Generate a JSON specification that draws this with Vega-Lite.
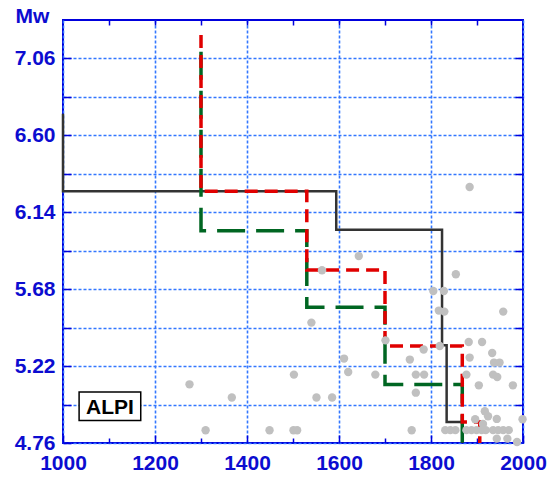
{
  "$schema": "https://vega.github.io/schema/vega-lite/v6.json",
  "width": 460,
  "height": 423,
  "autosize": {"type": "none"},
  "padding": {"left": 63, "top": 20, "right": 32, "bottom": 38},
  "background": "white",
  "config": {
    "view": {"stroke": "#0000dd", "strokeWidth": 2},
    "axis": {
      "labelFont": "Liberation Sans",
      "labelFontWeight": "bold",
      "labelFontSize": 21,
      "labelColor": "#0c0cd0",
      "tickColor": "#0000dd",
      "tickWidth": 1.5,
      "gridColor": "#3377ff",
      "gridWidth": 1.6,
      "gridDash": [3, 2],
      "gridOpacity": 1,
      "domain": false,
      "titleFont": "Liberation Sans",
      "titleFontWeight": "bold",
      "titleFontSize": 21,
      "titleColor": "#0c0cd0"
    }
  },
  "datasets": {
    "steps": [
      {"series": "black", "i": 0, "yr": 1000, "mw": 6.73},
      {"series": "black", "i": 1, "yr": 1000, "mw": 6.265},
      {"series": "black", "i": 2, "yr": 1594, "mw": 6.265},
      {"series": "black", "i": 3, "yr": 1594, "mw": 6.035},
      {"series": "black", "i": 4, "yr": 1824, "mw": 6.035},
      {"series": "black", "i": 5, "yr": 1824, "mw": 5.345},
      {"series": "black", "i": 6, "yr": 1834, "mw": 5.345},
      {"series": "black", "i": 7, "yr": 1834, "mw": 4.885},
      {"series": "black", "i": 8, "yr": 1868, "mw": 4.885},
      {"series": "black", "i": 9, "yr": 1868, "mw": 4.76},
      {"series": "green", "i": 0, "yr": 1300, "mw": 7.1},
      {"series": "green", "i": 1, "yr": 1300, "mw": 6.03},
      {"series": "green", "i": 2, "yr": 1530, "mw": 6.03},
      {"series": "green", "i": 3, "yr": 1530, "mw": 5.572},
      {"series": "green", "i": 4, "yr": 1700, "mw": 5.572},
      {"series": "green", "i": 5, "yr": 1700, "mw": 5.11},
      {"series": "green", "i": 6, "yr": 1868, "mw": 5.11},
      {"series": "green", "i": 7, "yr": 1868, "mw": 4.76},
      {"series": "red", "i": 0, "yr": 1300, "mw": 7.2},
      {"series": "red", "i": 1, "yr": 1300, "mw": 6.265},
      {"series": "red", "i": 2, "yr": 1530, "mw": 6.265},
      {"series": "red", "i": 3, "yr": 1530, "mw": 5.795},
      {"series": "red", "i": 4, "yr": 1700, "mw": 5.795},
      {"series": "red", "i": 5, "yr": 1700, "mw": 5.34},
      {"series": "red", "i": 6, "yr": 1868, "mw": 5.34},
      {"series": "red", "i": 7, "yr": 1868, "mw": 4.885},
      {"series": "red", "i": 8, "yr": 1906, "mw": 4.885},
      {"series": "red", "i": 9, "yr": 1906, "mw": 4.76}
    ],
    "quakes": [
      {"yr": 1275, "mw": 5.111},
      {"yr": 1367, "mw": 5.032},
      {"yr": 1310, "mw": 4.836},
      {"yr": 1449, "mw": 4.836},
      {"yr": 1501, "mw": 4.836},
      {"yr": 1509, "mw": 4.836},
      {"yr": 1502, "mw": 5.169},
      {"yr": 1551, "mw": 5.032},
      {"yr": 1585, "mw": 5.032},
      {"yr": 1540, "mw": 5.48},
      {"yr": 1563, "mw": 5.793},
      {"yr": 1643, "mw": 5.878},
      {"yr": 1611, "mw": 5.265},
      {"yr": 1620, "mw": 5.185},
      {"yr": 1679, "mw": 5.169},
      {"yr": 1701, "mw": 5.374},
      {"yr": 1754, "mw": 5.259},
      {"yr": 1784, "mw": 5.319},
      {"yr": 1767, "mw": 5.169},
      {"yr": 1785, "mw": 5.169},
      {"yr": 1767, "mw": 5.061},
      {"yr": 1758, "mw": 4.836},
      {"yr": 1805, "mw": 5.669},
      {"yr": 1828, "mw": 5.669},
      {"yr": 1817, "mw": 5.552},
      {"yr": 1829, "mw": 5.546},
      {"yr": 1854, "mw": 5.769},
      {"yr": 1819, "mw": 5.34},
      {"yr": 1957, "mw": 5.546},
      {"yr": 1882, "mw": 5.364},
      {"yr": 1911, "mw": 5.364},
      {"yr": 1884, "mw": 5.271},
      {"yr": 1933, "mw": 5.298},
      {"yr": 1937, "mw": 5.241},
      {"yr": 1949, "mw": 5.241},
      {"yr": 1877, "mw": 5.169},
      {"yr": 1935, "mw": 5.169},
      {"yr": 1944, "mw": 5.155},
      {"yr": 1904, "mw": 5.105},
      {"yr": 1978, "mw": 5.105},
      {"yr": 1917, "mw": 4.95},
      {"yr": 1924, "mw": 4.92},
      {"yr": 1943, "mw": 4.904},
      {"yr": 1896, "mw": 4.902},
      {"yr": 1999, "mw": 4.902},
      {"yr": 1913, "mw": 4.874},
      {"yr": 1943, "mw": 4.786},
      {"yr": 1966, "mw": 4.786},
      {"yr": 1987, "mw": 4.766},
      {"yr": 1884, "mw": 6.291},
      {"yr": 1831, "mw": 4.837},
      {"yr": 1842, "mw": 4.837},
      {"yr": 1853, "mw": 4.837},
      {"yr": 1877, "mw": 4.837},
      {"yr": 1888, "mw": 4.837},
      {"yr": 1899, "mw": 4.837},
      {"yr": 1910, "mw": 4.837},
      {"yr": 1919, "mw": 4.837},
      {"yr": 1935, "mw": 4.837},
      {"yr": 1946, "mw": 4.837},
      {"yr": 1957, "mw": 4.837},
      {"yr": 1969, "mw": 4.837}
    ],
    "tag": [
      {"label": "ALPI", "yr": 1102, "mw": 4.936, "x0": 1035, "x1": 1169, "y0": 4.894, "y1": 5.065}
    ]
  },
  "resolve": {"axis": {"x": "independent", "y": "independent"}},
  "layer": [
    {
      "data": {"name": "steps"},
      "transform": [{"filter": "datum.series === 'black'"}],
      "mark": {"type": "line", "color": "#333333", "strokeWidth": 2.5, "interpolate": "linear"},
      "encoding": {
        "x": {
          "field": "yr", "type": "quantitative",
          "scale": {"domain": [1000, 2000], "nice": false, "zero": false},
          "axis": {
            "orient": "bottom", "title": null, "format": "d",
            "values": [1000, 1200, 1400, 1600, 1800, 2000],
            "grid": true, "tickSize": -8, "labelPadding": 17,
            "labelFlush": false, "labelOverlap": false
          }
        },
        "y": {
          "field": "mw", "type": "quantitative",
          "scale": {"domain": [4.76, 7.29], "nice": false, "zero": false},
          "axis": {
            "orient": "left",
            "values": [4.76, 4.99, 5.22, 5.45, 5.68, 5.91, 6.14, 6.37, 6.6, 6.83, 7.06],
            "labelExpr": "indexof([4.76, 5.22, 5.68, 6.14, 6.6, 7.06], datum.value) >= 0 ? format(datum.value, '.2f') : ''",
            "grid": true, "tickSize": -8, "labelPadding": 16,
            "labelFlush": false, "labelOverlap": false,
            "title": "Mw", "titleAngle": 0, "titleAlign": "left",
            "titleBaseline": "alphabetic", "titleX": -48, "titleY": 2
          }
        },
        "order": {"field": "i", "type": "quantitative"}
      }
    },
    {
      "data": {"name": "steps"},
      "transform": [{"filter": "datum.series === 'green'"}],
      "mark": {"type": "line", "color": "#006622", "strokeWidth": 3.5, "strokeDash": [28, 11], "strokeCap": "butt"},
      "encoding": {
        "x": {
          "field": "yr", "type": "quantitative",
          "scale": {"domain": [1000, 2000], "nice": false, "zero": false},
          "axis": {
            "orient": "top", "title": null,
            "values": [1100, 1200, 1300, 1400, 1500, 1600, 1700, 1800, 1900],
            "labels": false, "grid": false, "tickSize": -5
          }
        },
        "y": {
          "field": "mw", "type": "quantitative",
          "scale": {"domain": [4.76, 7.29], "nice": false, "zero": false},
          "axis": {
            "orient": "right", "title": null,
            "values": [4.99, 5.22, 5.45, 5.68, 5.91, 6.14, 6.37, 6.6, 6.83, 7.06],
            "labels": false, "grid": false, "tickSize": -8
          }
        },
        "order": {"field": "i", "type": "quantitative"}
      }
    },
    {
      "data": {"name": "steps"},
      "transform": [{"filter": "datum.series === 'red'"}],
      "mark": {"type": "line", "color": "#e00000", "strokeWidth": 3.5, "strokeDash": [13, 7], "strokeCap": "butt"},
      "encoding": {
        "x": {
          "field": "yr", "type": "quantitative",
          "scale": {"domain": [1000, 2000], "nice": false, "zero": false},
          "axis": {
            "orient": "bottom", "title": null,
            "values": [1100, 1300, 1500, 1700, 1900],
            "labels": false, "grid": false, "tickSize": -5
          }
        },
        "y": {
          "field": "mw", "type": "quantitative",
          "scale": {"domain": [4.76, 7.29], "nice": false, "zero": false},
          "axis": null
        },
        "order": {"field": "i", "type": "quantitative"}
      }
    },
    {
      "data": {"name": "quakes"},
      "mark": {"type": "circle", "size": 70, "color": "#c0c0c0", "opacity": 1},
      "encoding": {
        "x": {"field": "yr", "type": "quantitative", "axis": null},
        "y": {"field": "mw", "type": "quantitative", "axis": null}
      }
    },
    {
      "data": {"name": "tag"},
      "mark": {"type": "rect", "fill": "white", "stroke": "black", "strokeWidth": 1.5},
      "encoding": {
        "x": {"field": "x0", "type": "quantitative", "axis": null},
        "x2": {"field": "x1"},
        "y": {"field": "y0", "type": "quantitative", "axis": null},
        "y2": {"field": "y1"}
      }
    },
    {
      "data": {"name": "tag"},
      "mark": {"type": "text", "font": "Liberation Sans", "fontWeight": "bold", "fontSize": 21, "color": "black", "align": "center", "baseline": "alphabetic"},
      "encoding": {
        "x": {"field": "yr", "type": "quantitative", "axis": null},
        "y": {"field": "mw", "type": "quantitative", "axis": null},
        "text": {"field": "label"}
      }
    }
  ]
}
